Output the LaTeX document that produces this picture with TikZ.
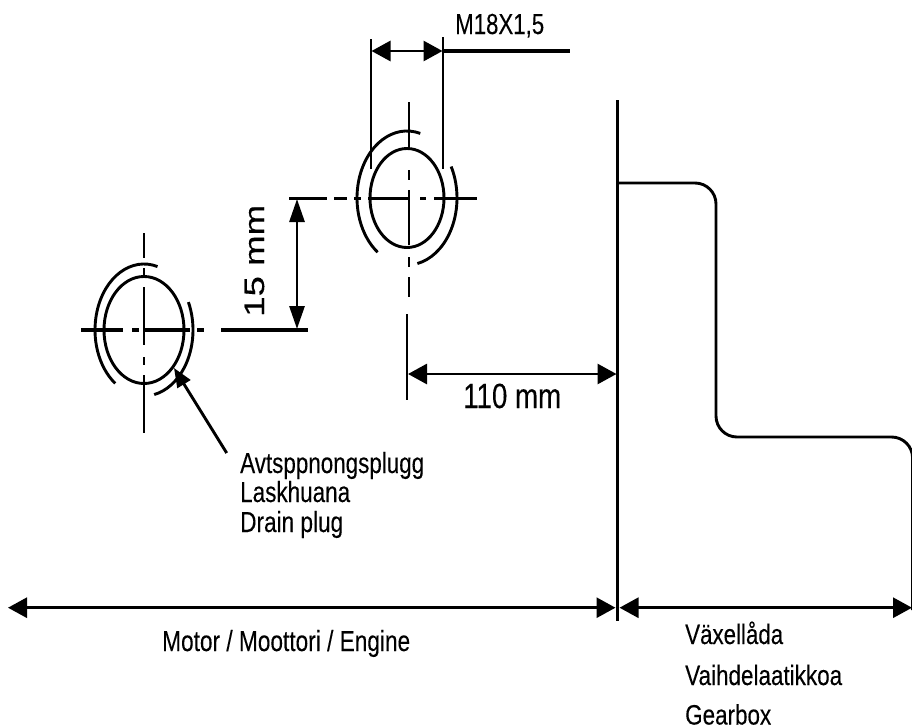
\documentclass[tikz,border=0pt]{standalone}
\usepackage{fontspec}
\setmainfont[FakeBold=0.2]{Liberation Sans}
\usetikzlibrary{arrows.meta}
\tikzset{
  line/.style={line width=2.9pt},
  heavy/.style={line width=3.4pt},
  dimen/.style={line width=2.9pt,{Triangle[length=19pt,width=20pt]}-{Triangle[length=19pt,width=20pt]}},
  dimenv/.style={line width=2.9pt,{Triangle[length=23pt,width=15pt]}-{Triangle[length=23pt,width=15pt]}},
  leaderarrow/.style={line width=2.9pt,-{Triangle[length=19pt,width=15pt]}},
  lab/.style={inner sep=0pt,anchor=base west}
}
\newcommand{\fit}[3]{\resizebox{#1pt}{\height}{\fontsize{#2}{#2}\selectfont #3}}
\begin{document}
\begin{tikzpicture}[x=1pt,y=-1pt]
\useasboundingbox (0,0) rectangle (912,726);
% left plug
\draw[line] (144,330) ellipse [x radius=40,y radius=53.5];
\draw[line] (144,330) ++(74:49 and -66) arc [start angle=74,end angle=234,x radius=49,y radius=-66];
\draw[line] (144,330) ++(25:49 and -66) arc [start angle=25,end angle=-78,x radius=49,y radius=-66];
\draw[heavy] (81,330) -- (123,330) (132,330) -- (139,330) (145,330) -- (190,330) (197,330) -- (204,330);
\draw[line] (144,233) -- (144,258) (144,268) -- (144,276) (144,287) -- (144,345) (144,357) -- (144,365) (144,375) -- (144,433);
% upper plug
\draw[line] (407,198) ellipse [x radius=37,y radius=49.5];
\draw[line] (407,198) ++(74.6:50 and -67) arc [start angle=74.6,end angle=234,x radius=50,y radius=-67];
\draw[line] (407,198) ++(28:50 and -67) arc [start angle=28,end angle=-78,x radius=50,y radius=-67];
\draw[heavy] (289,198.5) -- (327,198.5) (334,198.5) -- (347,198.5) (354,198.5) -- (361,198.5) (368,198.5) -- (410,198.5) (420,198.5) -- (426,198.5) (434,198.5) -- (477,198.5);
\draw[line] (409,102) -- (409,148) (409,170) -- (409,180) (409,190) -- (409,245) (409,257) -- (409,267) (409,277) -- (409,297);
% thread dimension
\draw[line] (371,39) -- (371,169);
\draw[line] (443,37) -- (443,169);
\coordinate (tl) at (371.5,51);
\coordinate (tr) at (442.5,51);
\coordinate (tend) at (570,51);
\draw[dimen] (tl) -- (tr);
\draw[heavy] (tr) -- (tend);
\node[lab] (thread) at (455,34) {\fit{89}{29}{M18X1,5}};
% 15 mm dimension
\draw[heavy] (221,330) -- (308,330);
\coordinate (va) at (297,199);
\coordinate (vb) at (297,329);
\draw[dimenv] (va) -- (vb);
\node[lab,rotate=90] (fifteen) at (264,317) {\fit{112}{28}{15 mm}};
% 110 mm dimension
\draw[line] (407,314) -- (407,400);
\coordinate (ha) at (408,374);
\coordinate (hb) at (616.5,374);
\draw[dimen] (ha) -- (hb);
\node[lab] (onetenlab) at (463,408) {\fit{98}{35}{110 mm}};
% leader
\coordinate (lstart) at (226.7,453);
\coordinate (ltip) at (174,368);
\draw[leaderarrow] (lstart) -- (ltip);
\node[lab] (drain1) at (240,473) {\fit{184}{29}{Avtsppnongsplugg}};
\node[lab] (drain2) at (240,502) {\fit{110}{29}{Laskhuana}};
\node[lab] (drain3) at (240,532) {\fit{103}{29}{Drain plug}};
% gearbox wall
\draw[line] (617.5,100) -- (617.5,621);
\draw[line,rounded corners=21pt] (617.5,183) -- (716,183) -- (716,437) -- (912.6,437) -- (912.6,610);
% bottom arrows
\coordinate (ba) at (8,607.7);
\coordinate (bb) at (615.5,607.7);
\coordinate (bc) at (619.5,607.7);
\coordinate (bd) at (912,607.7);
\draw[dimen] (ba) -- (bb);
\draw[dimen] (bc) -- (bd);
\node[lab] (motor) at (162,651) {\fit{248}{29}{Motor / Moottori / Engine}};
\node[lab] (gb1) at (685,644) {\fit{98}{28}{Växellåda}};
\node[lab] (gb2) at (685,685) {\fit{157}{28}{Vaihdelaatikkoa}};
\node[lab] (gb3) at (685,724.5) {\fit{86}{28}{Gearbox}};
\end{tikzpicture}
\end{document}
